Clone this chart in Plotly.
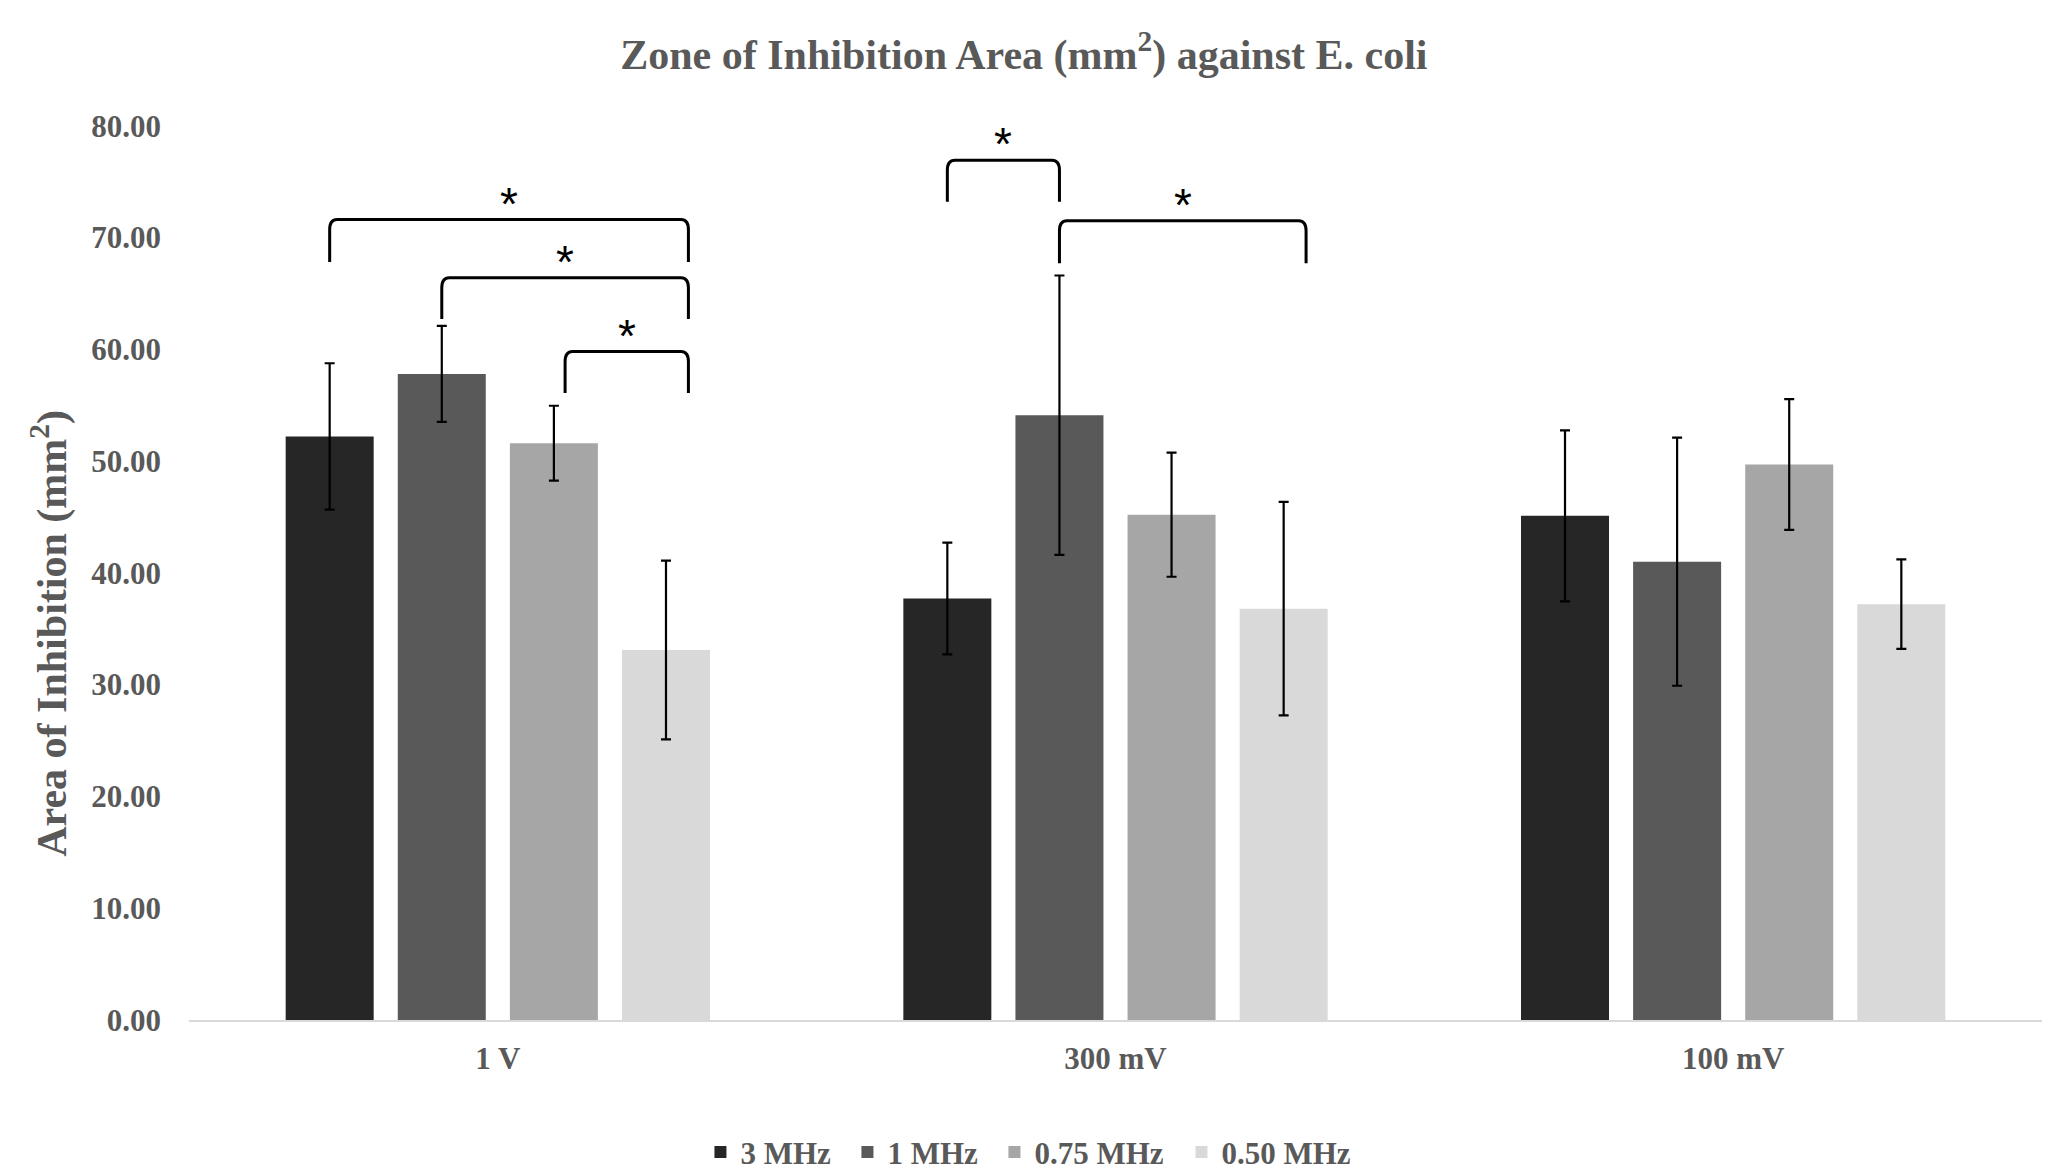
import plotly.graph_objects as go

# ---- data ----
categories = ["1 V", "300 mV", "100 mV"]
series_names = ["3 MHz", "1 MHz", "0.75 MHz", "0.50 MHz"]
series_colors = ["#262626", "#595959", "#a6a6a6", "#d9d9d9"]

mhz_3 = [52.2, 37.7, 45.1]
mhz_3_err = [6.55, 5.0, 7.65]
mhz_1 = [57.8, 54.1, 41.0]
mhz_1_err = [4.3, 12.5, 11.1]
mhz_075 = [51.6, 45.2, 49.7]
mhz_075_err = [3.35, 5.55, 5.85]
mhz_050 = [33.1, 36.8, 37.2]
mhz_050_err = [8.0, 9.55, 4.0]

y_ticks = [0, 10, 20, 30, 40, 50, 60, 70, 80]

# significance brackets: (group index, from series pos, to series pos, bar height, leg bottom)
brackets = [
    (0, 0.0, 3.2, 71.6, 67.8),
    (0, 1.0, 3.2, 66.4, 62.7),
    (0, 2.1, 3.2, 59.8, 56.1),
    (1, 0.0, 1.0, 76.9, 73.2),
    (1, 1.0, 3.2, 71.5, 67.7),
]
star_text = "*"

# ---- figure ----
values = [mhz_3, mhz_1, mhz_075, mhz_050]
errors = [mhz_3_err, mhz_1_err, mhz_075_err, mhz_050_err]
legend_widths = [102, 102, 142, 125]

BARGAP = 0.274
BARGROUPGAP = 0.215
slot = (1 - BARGAP) / len(series_names)

x_idx = list(range(len(categories)))
GRAY = "#595959"
FONT = "Liberation Serif"

fig = go.Figure()
for name, col, v, e, lw in zip(series_names, series_colors, values, errors, legend_widths):
    fig.add_trace(go.Bar(
        x=x_idx, y=v, name=name, legendwidth=lw,
        marker=dict(color=col, line=dict(width=0)),
        error_y=dict(type="data", array=e, symmetric=True,
                     color="black", thickness=2.2, width=5),
    ))


def sx(g, s):
    return g + (s - (len(series_names) - 1) / 2) * slot


shapes = []
annotations = []
for g, s1, s2, ytop, ylow in brackets:
    x1 = sx(g, s1)
    x2 = sx(g, s2)
    dx = 0.012
    dy = 0.9
    path = (f"M {x1},{ylow} L {x1},{ytop - dy} Q {x1},{ytop} {x1 + dx},{ytop} "
            f"L {x2 - dx},{ytop} Q {x2},{ytop} {x2},{ytop - dy} L {x2},{ylow}")
    shapes.append(dict(type="path", xref="x", yref="y", path=path,
                       line=dict(color="black", width=3)))
    annotations.append(dict(x=(x1 + x2) / 2, y=ytop, xref="x", yref="y",
                            text=star_text, showarrow=False, yanchor="bottom",
                            yshift=-12,
                            font=dict(family="Liberation Sans", size=46, color="black")))

annotations.append(dict(
    x=-0.0752, y=0.412, xref="paper", yref="paper",
    text="Area of Inhibition (mm<sup>2</sup>)", textangle=-90, showarrow=False,
    xanchor="center", yanchor="middle",
    font=dict(family=FONT, size=42, color=GRAY, weight="bold"),
))

fig.update_layout(
    width=2056, height=1171,
    margin=dict(l=189, r=14, t=81, b=151, autoexpand=False),
    paper_bgcolor="white", plot_bgcolor="white",
    barmode="group", bargap=BARGAP, bargroupgap=BARGROUPGAP,
    title=dict(text="Zone of Inhibition Area (mm<sup>2</sup>) against E. coli",
               x=0.498, xref="container", xanchor="center",
               y=0.954, yref="container", yanchor="middle",
               font=dict(family=FONT, size=42, color=GRAY, weight="bold")),
    xaxis=dict(tickmode="array", tickvals=x_idx, ticktext=categories,
               range=[-0.5, len(categories) - 0.5],
               showgrid=False, zeroline=False,
               showline=True, linecolor="#d9d9d9", linewidth=2,
               ticks="", ticklabelstandoff=10, automargin=False,
               tickfont=dict(family=FONT, size=31, color=GRAY, weight="bold")),
    yaxis=dict(range=[0, 84], tickmode="array", tickvals=y_ticks,
               tickformat=".2f", showgrid=False, zeroline=False,
               showline=False, ticks="", ticklabelstandoff=27, automargin=False,
               tickfont=dict(family=FONT, size=31, color=GRAY, weight="bold")),
    legend=dict(orientation="h", xref="container", yref="container",
                x=0.499, xanchor="center", y=0.016, yanchor="middle",
                font=dict(family=FONT, size=31, color=GRAY, weight="bold"),
                itemwidth=30, traceorder="normal"),
    shapes=shapes,
    annotations=annotations,
    showlegend=True,
)

fig.write_html("out.html",
               config={"displayModeBar": False},
               post_script="document.body.style.margin='0';document.body.style.padding='0';")
